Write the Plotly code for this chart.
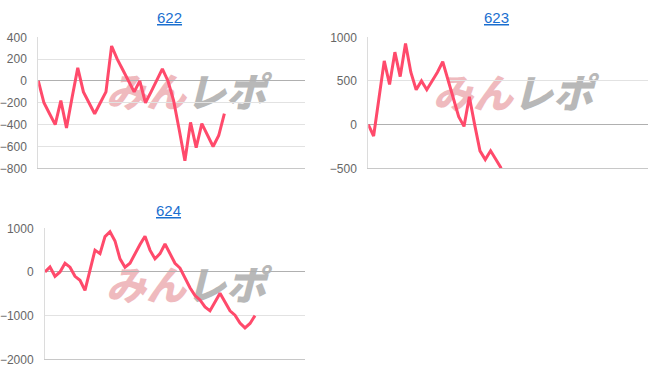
import plotly.graph_objects as go

W, H = 652, 382

titles = ["622", "623", "624"]
s622 = [0, -200, -300, -400, -180, -430, -150, 120, -100, -200, -300, -200, -100, 320,
        200, 100, 0, -100, 0, -200, -100, 0, 110, 0, -180, -450, -730, -380, -610, -390,
        -500, -600, -500, -300]
s623 = [0, -130, 300, 730, 460, 830, 550, 930, 600, 400, 500, 400, 500, 600, 720, 500,
        300, 90, -20, 320, 0, -300, -400, -300, -400, -500]
s624 = [0, 115, -100, 0, 200, 110, -100, -190, -420, 50, 500, 420, 810, 920, 710, 300,
        110, 200, 420, 630, 820, 500, 300, 420, 640, 420, 200, 90, -140, -360, -540, -640,
        -800, -890, -690, -490, -690, -890, -990, -1170, -1280, -1180, -1000]
series = [s622, s623, s624]
y_ranges = [[-800, 400], [-500, 1000], [-2000, 1000]]
y_dticks = [200, 500, 1000]
x_ranges = [[0, 47.3], [0, 52.6], [0, 52]]

# pixel boxes (left, right, top, bottom)
boxes = [(38.3, 305, 37.3, 168.3), (368.3, 648, 37.3, 168.3), (45, 305, 228.3, 359.3)]
title_pos = [(169, 18), (496, 18), (168, 210)]
wm_pos = [(186, 96), (513, 97), (186, 289)]

LINE = "#ff4a6b"
PINK = "#efbabe"
GRAY = "#b8b8b8"
fig = go.Figure()
layout = dict(width=W, height=H, autosize=False,
              margin=dict(l=0, r=0, t=0, b=0, pad=0, autoexpand=False),
              paper_bgcolor="white", plot_bgcolor="white", showlegend=False,
              font=dict(family="Liberation Sans, Arial, sans-serif", size=12, color="#666"))
annotations = []
shapes = []
for k in range(3):
    sfx = "" if k == 0 else str(k + 1)
    L, R, T, B = boxes[k]
    xd = [L / W, R / W]
    yd = [1 - B / H, 1 - T / H]
    layout["xaxis" + sfx] = dict(domain=xd, range=x_ranges[k], showgrid=False,
                                 zeroline=False, showticklabels=False, ticks="",
                                 showline=True, linecolor="#c8c8c8", linewidth=1,
                                 anchor="y" + sfx, fixedrange=True, automargin=False)
    layout["yaxis" + sfx] = dict(domain=yd, range=y_ranges[k], dtick=y_dticks[k],
                                 tick0=0, showgrid=True, gridcolor="#e2e2e2", gridwidth=1,
                                 zeroline=True, zerolinecolor="#b0b0b0", zerolinewidth=1,
                                 showline=True, linecolor="#dcdcdc", linewidth=1,
                                 ticks="", ticklabelstandoff=8, automargin=False,
                                 tickfont=dict(size=12, color="#666"),
                                 anchor="x" + sfx, fixedrange=True)
    fig.add_trace(go.Scatter(x=list(range(len(series[k]))), y=series[k], mode="lines",
                             line=dict(color=LINE, width=3), xaxis="x" + sfx,
                             yaxis="y" + sfx, hoverinfo="skip"))
    tx, ty = title_pos[k]
    annotations.append(dict(text="<u>" + titles[k] + "</u>", x=tx / W, y=1 - ty / H,
                            xref="paper", yref="paper", xanchor="center", yanchor="middle",
                            showarrow=False,
                            font=dict(size=15, color="#1a6fd0",
                                      family="Liberation Sans, Arial, sans-serif")))
    cx, cy = wm_pos[k]
    shapes.append(dict(type="rect", xref="paper", yref="paper",
                       x0=(cx - 85) / W, x1=(cx + 85) / W,
                       y0=1 - (cy + 16) / H, y1=1 - (cy - 16) / H,
                       line=dict(width=0), fillcolor="rgba(0,0,0,0)", layer="below",
                       label=dict(text=('<i><b><span style="color:' + PINK + '">みん</span>'
                                        '<span style="color:' + GRAY + '">レポ</span></b></i>'),
                                  textposition="middle center",
                                  font=dict(size=40, color=PINK,
                                            family="Noto Sans CJK JP Black, Noto Sans CJK JP",
                                            weight=900))))
layout["annotations"] = annotations
layout["shapes"] = shapes
fig.update_layout(**layout)
fig.write_html("out.html", config={"displayModeBar": False})
